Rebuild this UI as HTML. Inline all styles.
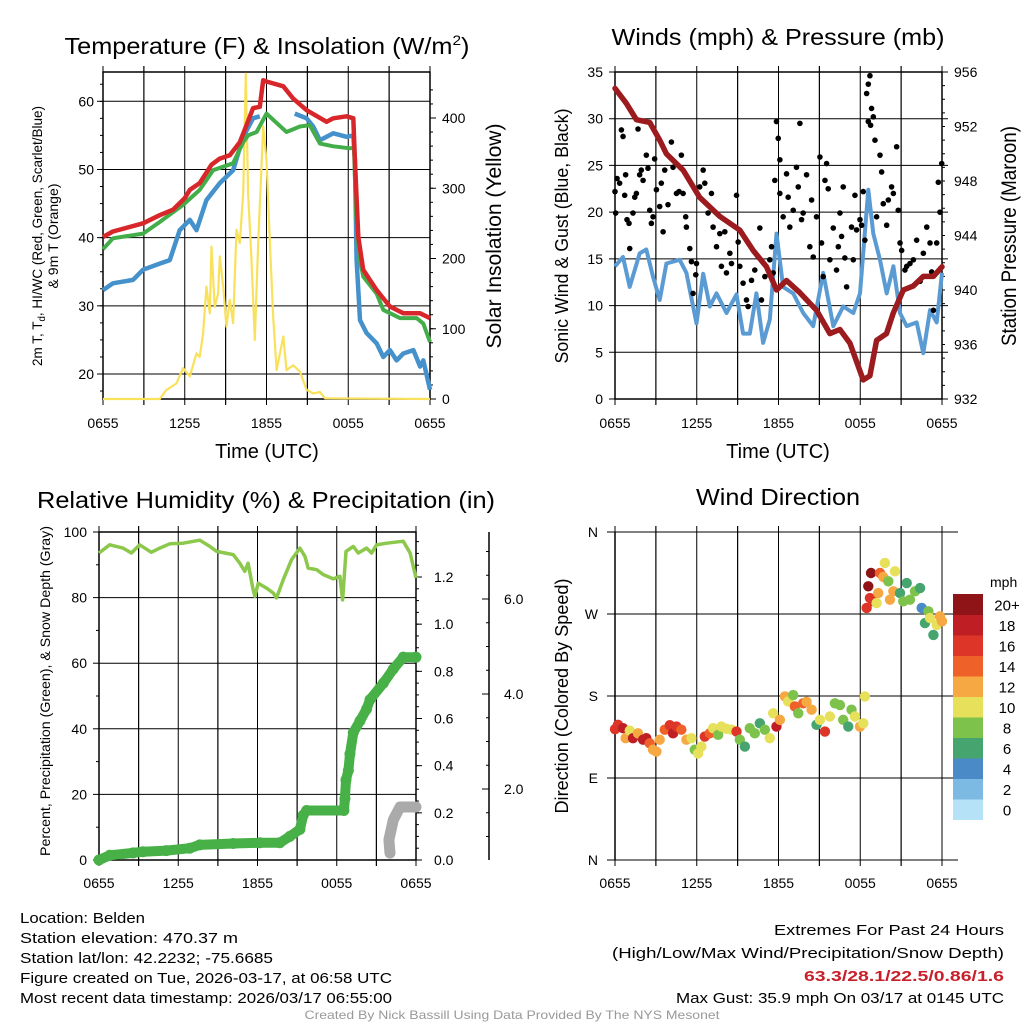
<!DOCTYPE html>
<html><head><meta charset="utf-8"><style>
html,body{margin:0;padding:0;background:#fff;}
svg{display:block;font-family:"Liberation Sans",Arial,sans-serif;}
</style></head><body>
<svg id="fig" width="1024" height="1024" viewBox="0 0 1024 1024" xmlns="http://www.w3.org/2000/svg">
<g id="texts">
<text x="267" y="54" font-size="23" text-anchor="middle" textLength="405" lengthAdjust="spacingAndGlyphs">Temperature (F) &amp; Insolation (W/m<tspan font-size="14" dy="-9">2</tspan><tspan dy="9">)</tspan></text>
<text x="778" y="45" font-size="23" text-anchor="middle" textLength="333" lengthAdjust="spacingAndGlyphs">Winds (mph) &amp; Pressure (mb)</text>
<text x="266" y="508" font-size="23" text-anchor="middle" textLength="458" lengthAdjust="spacingAndGlyphs">Relative Humidity (%) &amp; Precipitation (in)</text>
<text x="778" y="505" font-size="23" text-anchor="middle" textLength="164" lengthAdjust="spacingAndGlyphs">Wind Direction</text>

<text transform="translate(42,236) rotate(-90)" font-size="14" text-anchor="middle" textLength="260" lengthAdjust="spacingAndGlyphs">2m T, T<tspan font-size="10" dy="3">d</tspan><tspan dy="-3">, HI/WC (Red, Green, Scarlet/Blue)</tspan></text>
<text transform="translate(58,236) rotate(-90)" font-size="14" text-anchor="middle" textLength="105" lengthAdjust="spacingAndGlyphs">&amp; 9m T (Orange)</text>
<text transform="translate(501,236) rotate(-90)" font-size="21" text-anchor="middle" textLength="225" lengthAdjust="spacingAndGlyphs">Solar Insolation (Yellow)</text>
<text x="267" y="458" font-size="20" text-anchor="middle">Time (UTC)</text>
<text transform="translate(568,236) rotate(-90)" font-size="18" text-anchor="middle" textLength="255" lengthAdjust="spacingAndGlyphs">Sonic Wind &amp; Gust (Blue, Black)</text>
<text transform="translate(1016,236) rotate(-90)" font-size="21" text-anchor="middle" textLength="220" lengthAdjust="spacingAndGlyphs">Station Pressure (Maroon)</text>
<text x="778" y="458" font-size="20" text-anchor="middle">Time (UTC)</text>
<text transform="translate(50,691) rotate(-90)" font-size="14" text-anchor="middle" textLength="330" lengthAdjust="spacingAndGlyphs">Percent, Precipitation (Green), &amp; Snow Depth (Gray)</text>
<text transform="translate(568,696) rotate(-90)" font-size="18" text-anchor="middle" textLength="235" lengthAdjust="spacingAndGlyphs">Direction (Colored By Speed)</text>

<g font-size="15">
<text x="20" y="923" textLength="125" lengthAdjust="spacingAndGlyphs">Location: Belden</text>
<text x="20" y="943" textLength="218" lengthAdjust="spacingAndGlyphs">Station elevation: 470.37 m</text>
<text x="20" y="963" textLength="253" lengthAdjust="spacingAndGlyphs">Station lat/lon: 42.2232; -75.6685</text>
<text x="20" y="983" textLength="372" lengthAdjust="spacingAndGlyphs">Figure created on Tue, 2026-03-17, at 06:58 UTC</text>
<text x="20" y="1003" textLength="372" lengthAdjust="spacingAndGlyphs">Most recent data timestamp: 2026/03/17 06:55:00</text>
</g>
<g font-size="15" text-anchor="end">
<text x="1004" y="935" textLength="230" lengthAdjust="spacingAndGlyphs">Extremes For Past 24 Hours</text>
<text x="1004" y="958" textLength="392" lengthAdjust="spacingAndGlyphs">(High/Low/Max Wind/Precipitation/Snow Depth)</text>
<text x="1004" y="981" fill="#c8202a" font-weight="bold" textLength="200" lengthAdjust="spacingAndGlyphs">63.3/28.1/22.5/0.86/1.6</text>
<text x="1004" y="1003" textLength="328" lengthAdjust="spacingAndGlyphs">Max Gust: 35.9 mph On 03/17 at 0145 UTC</text>
</g>
<text x="512" y="1019" font-size="12" fill="#999" text-anchor="middle" textLength="415" lengthAdjust="spacingAndGlyphs">Created By Nick Bassill Using Data Provided By The NYS Mesonet</text>
</g>
</svg>
<script>
// ---------- DATA ----------
const timeTicks = ["0655","1255","1855","0055","0655"];
// Temperature panel
const tempHours = [0,0.73,2.94,4.16,5.14,6.0,6.37,7.10,7.96,8.57,9.31,10.04,10.53,11.02,11.51,11.76,12.0,13.23,13.96,14.94,16.41,16.9,17.88,18.37,18.49,18.74,19.1,20.08,21.06,22.04,23.27,24];
const tempValues = [40.1,40.9,42.1,43.3,44.1,45.8,47,48,50.7,51.6,52.1,54,56.5,59,59.2,63.1,62.9,62.2,60.4,58.7,57,57.5,57.8,57.5,51.4,40.1,35.3,32.3,29.9,28.9,28.9,28.2];
const hiwcHours = [0,0.73,2.94,4.16,5.88,7.10,8.08,9.55,10.29,10.65,11.27,12.0,13.47,14.45,15.18,15.92,16.9,18.12,18.42,18.56,18.81,19.1,20.08,20.57,21.8,23.02,23.51,24];
const hiwcValues = [38.3,39.9,40.6,42.3,44.8,47,49.9,50.9,54,55,55.5,58.2,55.5,56.3,56.5,53.8,53.4,53.1,53.2,44.1,37.2,34.3,31.8,29.4,28.2,28.2,27.4,24.7];
const dewHours = [0,0.73,2.2,2.94,4.16,4.9,5.63,6.37,6.86,7.59,8.57,9.55,10.29,11.02,11.51,null,14.08,14.94,15.43,15.92,16.9,17.88,18.37,18.49,18.61,18.86,19.35,20.08,20.57,21.06,21.55,22.04,22.78,23.27,23.51,24];
const dewValues = [32.3,33.3,33.8,35.3,36.2,36.7,41.1,42.6,41.1,45.5,48,49.9,54.8,57.5,57.8,null,58.2,57.5,56.3,54.3,55.3,54.8,55.0,51.4,36.7,27.9,26,24.5,22.5,23.5,22,23,23.5,21.1,22,17.7];
const solarHours = [0,4.16,4.65,5.39,5.88,6.37,6.86,7.10,7.35,7.59,7.84,7.96,8.2,8.45,8.57,8.82,9.06,9.31,9.55,9.8,10.04,10.29,10.48,10.65,10.9,11.14,11.39,11.76,12.0,12.25,12.49,12.74,12.98,13.23,13.47,13.96,14.45,14.94,15.43,15.92,16.29,24];
const solarValues = [0,0,13,22,44,32,65,60,93,160,122,217,131,150,203,160,103,141,108,241,222,293,463,293,198,84,222,388,340,222,117,41,65,89,41,48,39,13,8,10,1,0];
const tempTicks = [20,30,40,50,60];
const solarTicks = [0,100,200,300,400];
// Wind panel
const presHours = [0,0.83,1.57,2.55,3.28,3.77,5.0,6.22,7.69,9.16,10.14,11.12,11.86,12.59,13.57,14.8,15.77,16.51,17.24,18.22,18.71,19.2,19.93,20.42,21.16,21.9,22.63,23.37,24];
const presValues = [954.8,953.7,952.5,952.3,951,950,948.8,946.8,945.4,944.4,942.9,941.7,940.0,940.7,939.8,938.5,936.8,937.1,936.1,933.4,933.7,936.3,936.8,938.3,940.0,940.3,941,941,941.7];
const windHours = [0,0.59,1.08,1.81,2.3,2.79,3.28,3.77,4.75,5.24,5.73,5.98,6.47,6.96,7.45,8.18,8.92,9.4,9.89,10.38,10.87,11.36,11.85,12.34,13.08,13.81,14.55,15.28,16.02,16.75,17.49,17.98,18.59,18.96,19.45,19.94,20.43,20.92,21.41,22.14,22.63,23.12,23.61,24];
const windValues = [14.2,15.2,12,15.6,16,13.1,10.6,14.5,14.9,13.5,9.9,8.1,13.4,9.9,11.3,9.2,11.2,7.0,7.0,11.3,6.0,8.5,17.7,12,11.3,9.2,7.8,13.5,7.8,9.9,9.2,11.3,22.4,17.7,14.9,11.3,14.2,9.2,7.8,8.2,4.9,9.5,8.2,13.5];
const gustHours = [0,0.05,0.15,0.34,0.47,0.59,0.71,0.78,0.88,1.03,1.08,1.32,1.45,1.57,1.69,1.81,1.93,2.06,2.3,2.42,2.55,2.67,2.79,2.91,3.04,3.28,3.4,3.53,3.65,3.89,4.14,4.26,4.51,4.7,4.87,5.0,5.19,5.24,5.49,5.61,5.73,5.93,5.98,6.22,6.47,6.59,6.83,7.08,7.2,7.45,7.69,7.81,8.06,8.18,8.43,8.55,8.92,9.04,9.16,9.4,9.65,9.77,10.02,10.26,10.51,10.63,10.75,11.0,11.36,11.49,11.61,11.73,11.85,11.98,12.1,12.1,12.34,12.59,12.71,12.83,13.08,13.32,13.45,13.57,13.69,13.81,14.06,14.3,14.43,14.55,14.79,15.04,15.16,15.28,15.41,15.53,15.65,15.77,16.02,16.26,16.39,16.51,16.63,16.75,16.87,17.0,17.36,17.49,17.61,17.73,17.98,18.1,18.22,18.34,18.47,18.59,18.71,18.83,18.59,18.76,18.96,19.08,19.2,19.45,19.57,19.69,19.94,20.06,20.3,20.43,20.67,20.79,20.92,21.04,21.28,21.41,21.65,21.9,22.14,22.39,22.63,22.88,23.12,23.24,23.37,23.61,23.73,23.85,23.98];
const gustValues = [22.2,19.9,23.6,23.1,28.8,28.1,21.8,24.0,19.2,18.8,16.1,19.9,21.6,22.0,28.9,24.0,24.5,23.4,26.1,24.7,20.2,18.8,19.5,25.7,22.4,20.6,23.1,17.9,24.5,20.8,27.5,24.8,22.0,22.2,26.1,22.0,19.5,18.4,16.1,14.7,11.3,13.3,14.5,22.7,24.5,23.1,19.9,22.0,18.4,16.3,17.7,14.2,17.9,13.5,15.6,14.5,21.8,16.8,14.2,12.4,10.6,9.9,12.7,13.8,15.2,18.3,10.6,13.1,14.9,16.3,13.5,23.4,29.7,27.9,22.0,25.6,19.5,24.1,21.6,18.4,20.2,24.8,22.7,29.5,19.2,19.9,24.0,16.3,21.3,15.2,19.5,25.9,16.7,13.1,23.4,25.2,22.5,14.9,18.3,13.8,16.3,19.9,17.4,22.7,15.1,12.0,18.4,14.9,21.8,18.1,19.2,18.6,22.2,17.0,32.7,33.7,34.6,31.1,29.7,29.3,30.2,27.7,19.5,26.1,24.3,20.9,18.6,21.3,22.7,22.0,27.0,20.2,16.7,15.9,13.8,14.2,14.5,14.9,17.0,12.6,15.6,18.4,16.7,13.6,9.5,16.7,23.2,20.0,25.2];
const windTicks = [0,5,10,15,20,25,30,35];
const presTicks = [932,936,940,944,948,952,956];
// RH panel
const rhHours = [0,0.81,1.31,1.82,2.45,3.08,3.96,4.6,5.36,6.37,7.63,8.39,8.9,10.16,10.66,11.04,11.29,11.67,11.8,12.05,12.68,13.19,13.44,13.95,14.58,15.21,15.59,15.84,16.48,16.98,17.74,18.24,18.44,18.7,19.25,19.63,20.26,20.64,21.02,21.78,23.04,23.55,24];
const rhValues = [93.6,96.1,95.6,95.1,93.6,96.1,93.8,95.1,96.4,96.6,97.5,95.6,94.1,93.1,90.5,88,90.5,82.4,80.4,84.4,82.9,81.4,79.9,85.5,91.6,95.1,92.6,89,88.5,87,85.7,86.5,79.3,94.1,95.6,93.6,95.1,93.6,96.1,96.6,97.2,93.6,86];
const precipHours = [0,0.81,2.58,3.33,5.1,6.87,7.63,10.16,12.18,13.69,14.45,15.21,15.46,15.72,18.54,18.62,18.7,18.88,19.0,19.25,19.76,20.26,20.52,21.53,22.28,23.04,24];
const precipValues = [0,0.02,0.03,0.035,0.04,0.05,0.064,0.07,0.073,0.073,0.1,0.13,0.19,0.21,0.21,0.26,0.34,0.38,0.45,0.54,0.59,0.64,0.68,0.75,0.81,0.86,0.86];
const snowHours = [22.03,21.95,22.28,22.79,24];
const snowValues = [0.65,0.93,1.35,1.62,1.62];
const rhTicks = [0,20,40,60,80,100];
const precipTicks = ["0.0","0.2","0.4","0.6","0.8","1.0","1.2"];
const snowTicks = ["2.0","4.0","6.0"];
// Direction panel
const dirHours = [0,0.22,0.59,0.78,1.08,1.32,1.69,2.06,2.3,2.55,2.79,3.04,3.28,3.65,4.02,4.26,4.51,4.87,5.24,5.61,5.85,6.1,6.34,6.59,6.96,7.2,7.57,7.81,8.18,8.55,8.92,9.16,9.53,9.89,10.26,10.63,11.0,11.36,11.61,11.85,12.1,12.47,12.71,13.08,13.2,13.45,13.81,14.06,14.43,14.79,15.04,15.41,15.77,16.14,16.51,16.75,17.12,17.36,17.61,17.98,18.22,18.34,18.47,18.59,18.79,18.71,18.96,19.2,19.32,19.45,19.69,19.81,20.06,20.18,20.43,20.55,20.92,21.16,21.41,21.65,22.02,22.39,22.51,22.75,23.0,23.12,23.37,23.61,23.85,24];
const dirDegrees = [143.6,148.4,144.7,133.7,142,133.7,139,132,133.7,128,121,119,132,143,148,139,146.5,143,132,133.7,121,117,124.5,135.5,139,144.7,137.4,146.5,144,143,141,132,124.5,144.7,139,150,143,133.7,161,146.5,153.8,179.5,174,181,168.5,161,172,173.6,165,148.4,153.8,141,157.5,172,170,153.8,146.5,165,157.5,146.5,150,179.5,276.6,300.4,315,287.5,283.9,282,293,315,310.6,326,305.9,285.7,294.9,316.8,293,283.9,304,285.7,294.9,298.5,276.6,260,272.9,265.6,247,258,267.4,262];
const dirSpeeds = [16,16,18,12,10,18,12,18,18,14,12,12,12,14,16,18,16,14,12,10,8,10,10,16,14,10,8,10,10,10,16,8,6,8,8,6,8,10,10,18,12,12,10,8,14,8,14,12,12,6,10,16,10,8,8,8,6,8,10,12,10,10,16,20,22,16,16,10,12,14,12,10,8,12,12,10,6,8,6,8,8,6,4,6,8,10,6,10,12,12];
const dirTicks = ["N","E","S","W","N"];
const speedLevels = ["0","2","4","6","8","10","12","14","16","18","20+"];
const speedColors = ["#b5e2f6","#7cb9e3","#4a8ac6","#46a46e","#7dc24b","#e6e05a","#f6a842","#ee6229","#dd3527","#be1e24","#8e1418"];

// ---------- DRAW ----------
const NS="http://www.w3.org/2000/svg";
const svg=document.getElementById('fig');
function el(tag,attrs,parent){const e=document.createElementNS(NS,tag);for(const k in attrs)e.setAttribute(k,attrs[k]);(parent||svg).appendChild(e);return e;}
function lin(d0,d1,r0,r1){return v=>r0+(v-d0)*(r1-r0)/(d1-d0);}
function pathFrom(hs,vs,xf,yf){let d="",pen=false;for(let i=0;i<hs.length;i++){if(hs[i]===null){pen=false;continue;}d+=(pen?"L":"M")+xf(hs[i]).toFixed(1)+","+yf(vs[i]).toFixed(1);pen=true;}return d;}

function frame(L,R,T,B,name){
  const g=el('g',{});
  
  
  for(let i=0;i<=8;i++){const x=L+(R-L)*i/8;const ln=el('line',{x1:x,x2:x,y1:T-6,y2:B+6,stroke:'#000','stroke-width':(i%2?1.2:1)},g);}
  return g;
}
function xLabels(L,R,y,g){timeTicks.forEach((t,i)=>{const tx=el('text',{x:L+(R-L)*i/4,y:y,'font-size':14,'text-anchor':'middle'},g);tx.textContent=t;});}
function hline(g,L,R,y,ext){const l=el('line',{x1:L-(ext||0),x2:R+(ext||0),y1:y,y2:y,stroke:'#000','stroke-width':1},g);}
function tick(g,x,y,len){const l=el('line',{x1:x,x2:x+len,y1:y,y2:y,stroke:'#000','stroke-width':1},g);}
function label(g,x,y,t,anchor,name){const tx=el('text',{x:x,y:y+5,'font-size':14,'text-anchor':anchor},g);tx.textContent=t;}

// Panel 1: temperature
(function(){
  const L=103,R=430,T=72,B=399;
  const x=lin(0,24,L,R), y=lin(20,60,374,101.3), ys=lin(0,400,399,118);
  const g=frame(L,R,T,B,'temp');
  tempTicks.forEach(v=>{hline(g,L,R,y(v));tick(g,L,y(v),-6);label(g,L-9,y(v),String(v),'end','temp-y-tick-label');});
  for(let v=17.5;v<64;v+=2.5)tick(g,L,y(v),-3);
  solarTicks.forEach(v=>{tick(g,R,ys(v),6);label(g,R+12,ys(v),String(v),'start','solar-y-tick-label');});
  for(let v=20;v<460;v+=20)tick(g,R,ys(v),3);
  el('rect',{x:L,y:T,width:R-L,height:B-T,fill:'none',stroke:'#000','stroke-width':1.5},g);
  xLabels(L,R,428,g);
  const s=el('path',{d:pathFrom(solarHours,solarValues,x,ys),fill:'none',stroke:'#f9e15c','stroke-width':2.2,'stroke-linejoin':'round'});
  
  const dp=el('path',{d:pathFrom(dewHours,dewValues,x,y),fill:'none',stroke:'#4591cc','stroke-width':4.5,'stroke-linejoin':'round'});
  
  const hw=el('path',{d:pathFrom(hiwcHours,hiwcValues,x,y),fill:'none',stroke:'#43ad49','stroke-width':4,'stroke-linejoin':'round'});
  
  const t=el('path',{d:pathFrom(tempHours,tempValues,x,y),fill:'none',stroke:'#d8272a','stroke-width':4.5,'stroke-linejoin':'round'});
  
})();

// Panel 2: wind & pressure
(function(){
  const L=615,R=942,T=72,B=399;
  const x=lin(0,24,L,R), y=lin(0,35,B,T), yp=lin(932,956,B,T);
  const g=frame(L,R,T,B,'wind');
  windTicks.forEach(v=>{hline(g,L,R,y(v),6);label(g,L-12,y(v),String(v),'end','wind-y-tick-label');});
  presTicks.forEach(v=>{label(g,R+12,yp(v),String(v),'start','pressure-y-tick-label');});
  for(let v=933;v<956;v++)tick(g,R,yp(v),3);
  el('rect',{x:L,y:T,width:R-L,height:B-T,fill:'none',stroke:'#000','stroke-width':1.5},g);
  xLabels(L,R,428,g);
  const w=el('path',{d:pathFrom(windHours,windValues,x,y),fill:'none',stroke:'#5a9bd4','stroke-width':4,'stroke-linejoin':'round'});
  
  const gg=el('g',{});
  gustHours.forEach((h,i)=>{const c=el('circle',{cx:x(h),cy:y(gustValues[i]),r:2.8,fill:'#000'},gg);});
  const p=el('path',{d:pathFrom(presHours,presValues,x,yp),fill:'none',stroke:'#9b1b1e','stroke-width':5.5,'stroke-linejoin':'round','stroke-linecap':'round'});
  
})();

// Panel 3: RH & precip
(function(){
  const L=99,R=416,T=532,B=860;
  const x=lin(0,24,L,R), y=lin(0,100,B,T), yp=lin(0,1.2,B,577), ysn=lin(2,6,789,599);
  const g=frame(L,R,T,B,'rh');
  rhTicks.forEach(v=>{hline(g,L,R,y(v));tick(g,L,y(v),-6);label(g,L-12,y(v),String(v),'end','rh-y-tick-label');});
  for(let v=10;v<100;v+=20)tick(g,L,y(v),-3);
  precipTicks.forEach(v=>{tick(g,R,yp(+v),6);label(g,R+18,yp(+v),v,'start','precip-y-tick-label');});
  for(let v=0.05;v<1.39;v+=0.05)tick(g,R,yp(v),3);
  const ax=el('line',{x1:489,x2:489,y1:T,y2:B,stroke:'#000','stroke-width':1.5},g);
  snowTicks.forEach(v=>{tick(g,489,ysn(+v),-7);label(g,504,ysn(+v),v,'start','snow-y-tick-label');});
  for(let v=1;v<7.4;v+=0.5)tick(g,489,ysn(v),-3);
  el('rect',{x:L,y:T,width:R-L,height:B-T,fill:'none',stroke:'#000','stroke-width':1.5},g);
  xLabels(L,R,888,g);
  const rh=el('path',{d:pathFrom(rhHours,rhValues,x,y),fill:'none',stroke:'#8cc84b','stroke-width':3.5,'stroke-linejoin':'round'});
  
  const sn=el('path',{d:pathFrom(snowHours,snowValues,x,ysn),fill:'none',stroke:'#aaaaaa','stroke-width':11,'stroke-linejoin':'round','stroke-linecap':'round'});
  
  const pr=el('path',{d:pathFrom(precipHours,precipValues,x,yp),fill:'none',stroke:'#47b148','stroke-width':10,'stroke-linejoin':'round','stroke-linecap':'round'});
  
  precipHours.forEach((h,i)=>{const c=el('circle',{cx:x(h),cy:yp(precipValues[i]),r:5.5,fill:'#47b148'});});
})();

// Panel 4: direction
(function(){
  const L=615,R=942,T=532,B=860;
  const x=lin(0,24,L,R), y=lin(0,360,B,T);
  const g=frame(L,R,T,B,'dir');
  dirTicks.forEach((t,i)=>{const v=i*90;hline(g,L,R+8,y(v),8);label(g,L-17,y(v),t,'end','dir-y-tick-label');});
  el('line',{x1:L,x2:L,y1:T,y2:B,stroke:'#000','stroke-width':1.5},g);
  xLabels(L,R,888,g);
  const gg=el('g',{});
  dirHours.forEach((h,i)=>{const s=dirSpeeds[i];const idx=Math.min(10,Math.max(0,Math.round(s/2)));const c=el('circle',{cx:x(h),cy:y(dirDegrees[i]),r:5.2,fill:speedColors[idx]},gg);});
  const cb=el('g',{});
  const top=594,hh=20.5;
  const u=el('text',{x:990,y:587,'font-size':14},cb);u.textContent='mph';
  speedLevels.forEach((lv,i)=>{const j=10-i;const yy=top+j*hh;
    const r=el('rect',{x:953,y:yy,width:30,height:hh+0.5,fill:speedColors[i]},cb);
    const t=el('text',{x:1007,y:yy+hh/2+6,'font-size':15,'text-anchor':'middle'},cb);t.textContent=lv;});
})();
</script>
</body></html>
